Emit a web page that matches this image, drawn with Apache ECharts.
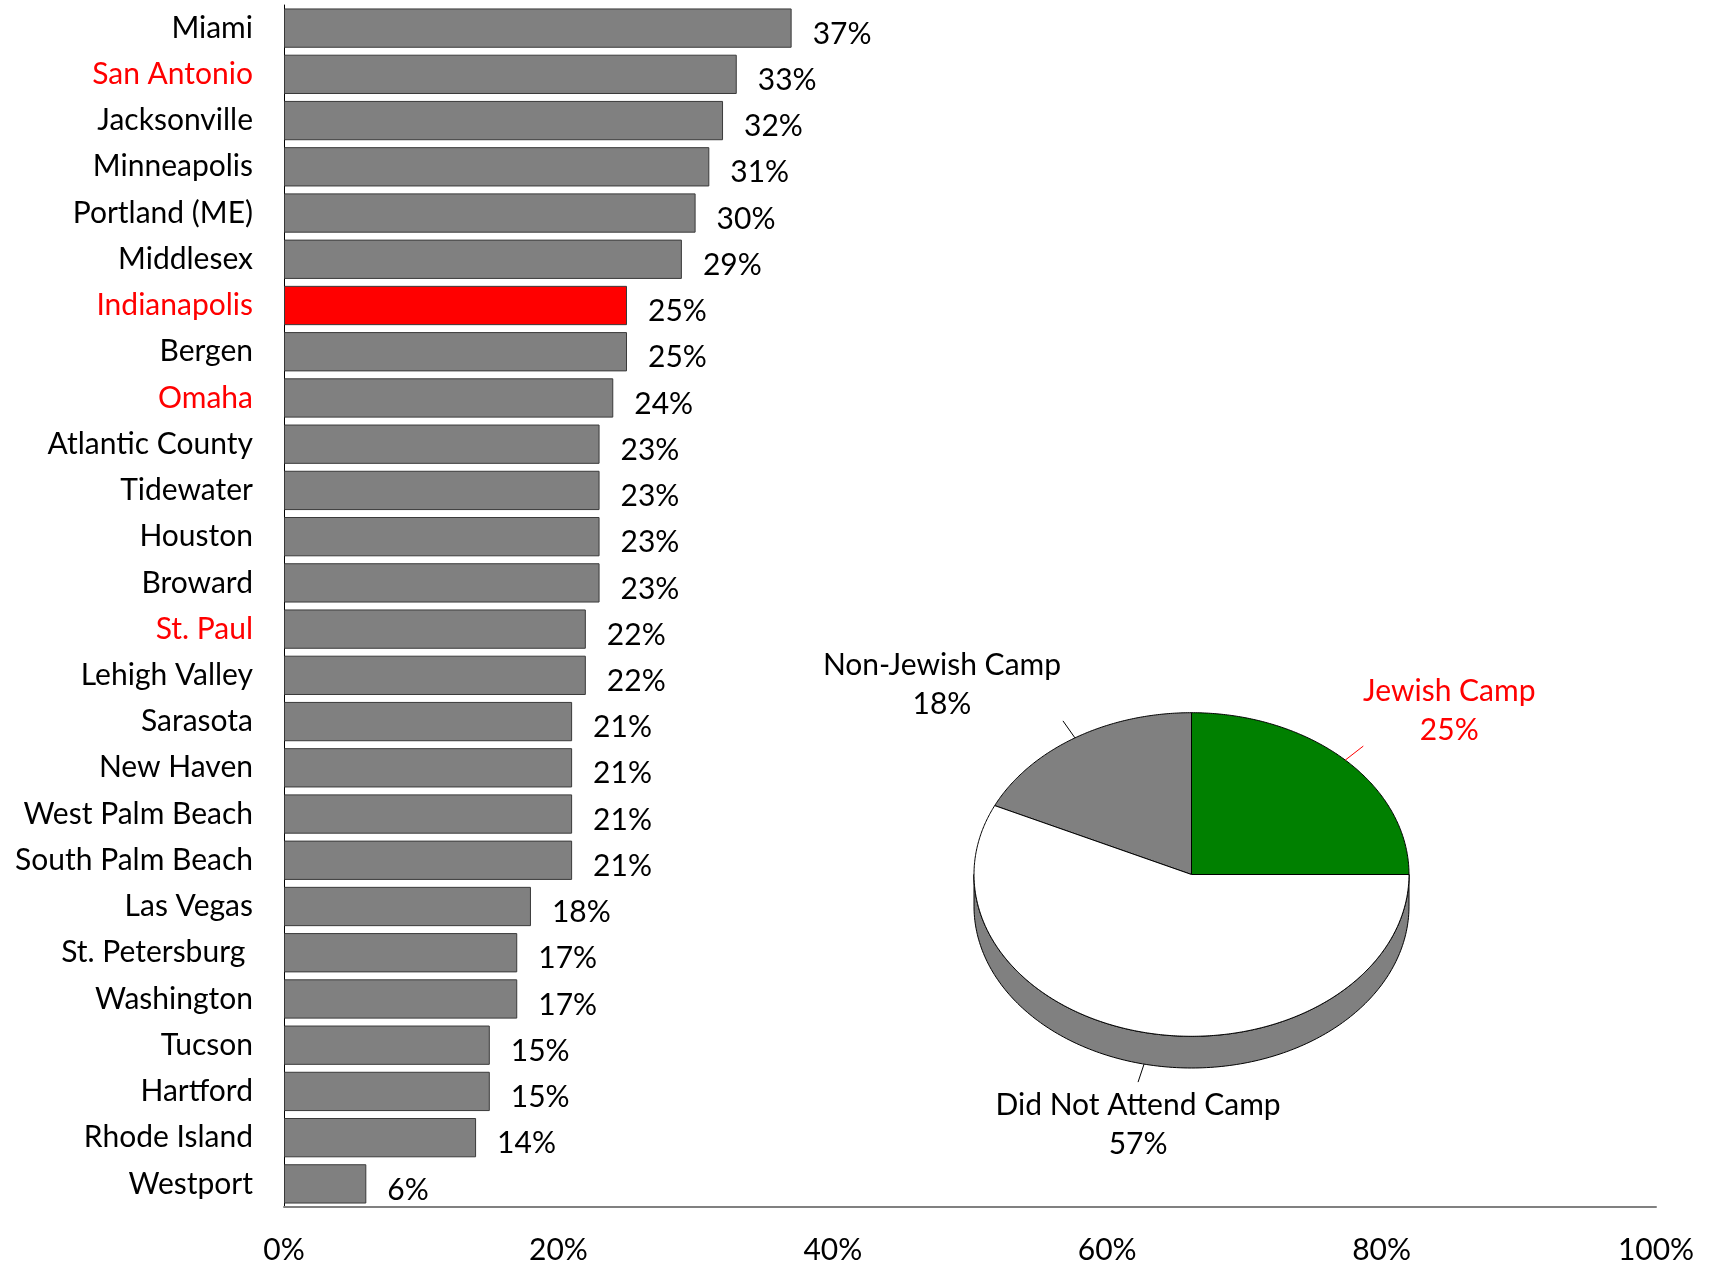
<!DOCTYPE html>
<html>
<head>
<meta charset="utf-8">
<script src="https://cdn.jsdelivr.net/npm/echarts@6/dist/echarts.min.js"></script>
<style>
html,body{margin:0;padding:0;background:#fff;}
#chart{width:1714px;height:1265px;}
</style>
</head>
<body>
<div id="chart"></div>
<script>
// ---- data ----
const cities = ['Miami','San Antonio','Jacksonville','Minneapolis','Portland (ME)','Middlesex','Indianapolis','Bergen','Omaha','Atlantic County','Tidewater','Houston','Broward','St. Paul','Lehigh Valley','Sarasota','New Haven','West Palm Beach','South Palm Beach','Las Vegas','St. Petersburg ','Washington','Tucson','Hartford','Rhode Island','Westport'];
const cityValues = [37,33,32,31,30,29,25,25,24,23,23,23,23,22,22,21,21,21,21,18,17,17,15,15,14,6];
const highlightedCities = ['San Antonio','Indianapolis','Omaha','St. Paul'];
const highlightedBar = 'Indianapolis';
const xTicks = [0,20,40,60,80,100];

const pieNames = ['Jewish Camp','Non-Jewish Camp','Did Not Attend Camp'];
const pieValues = [25,18,57];

// ---- styles / layout ----
const FONT = 'Lato';
const FS = 30;
const pieColors = ['#008000','#808080','#ffffff'];
const pieLabelColors = ['#ff0000','#000000','#000000'];
const pieGeom = {cx:1191.5, cy:874.5, rx:217.5, ry:161.8, depth:31.7};
const leaderVec = [[18,-14],[-12,-17],[-6,18]];
const labelOffset = [[86,-35],[-121,-36],[0,43]];

const chart = echarts.init(document.getElementById('chart'), null, {renderer:'canvas'});

function ellPt(deg, dy){
  const t = deg*Math.PI/180;
  return [pieGeom.cx + pieGeom.rx*Math.cos(t), pieGeom.cy - pieGeom.ry*Math.sin(t) + (dy||0)];
}

const total = pieValues.reduce((a,b)=>a+b,0);

function renderPie(params, api){
  const i = params.dataIndex;
  let before = 0;
  for (let k=0;k<i;k++) before += pieValues[k];
  const a0 = before/total*360;
  const a1 = (before+pieValues[i])/total*360;
  const children = [];
  // side (front part: angles 180..360)
  const s0 = Math.max(a0,180), s1 = Math.min(a1,360);
  if (s1 > s0){
    const pts = [];
    for (let d=s0; d<=s1+1e-6; d+=1) pts.push(ellPt(Math.min(d,s1)));
    for (let d=s1; d>=s0-1e-6; d-=1) pts.push(ellPt(Math.max(d,s0), pieGeom.depth));
    children.push({type:'polygon', shape:{points:pts}, style:{fill:'#808080', stroke:'#000', lineWidth:1}});
  }
  // top face
  const pts = [[pieGeom.cx, pieGeom.cy]];
  for (let d=a0; d<=a1+1e-6; d+=0.5) pts.push(ellPt(Math.min(d,a1)));
  pts.push(ellPt(a1));
  children.push({type:'polygon', shape:{points:pts}, style:{fill:pieColors[i], stroke:'#000', lineWidth:1}});
  // leader line + label
  const mid = (a0+a1)/2;
  const onFront = Math.sin(mid*Math.PI/180) < 0;
  const p = ellPt(mid, onFront ? pieGeom.depth : 0);
  const e = [p[0]+leaderVec[i][0], p[1]+leaderVec[i][1]];
  children.push({type:'line', shape:{x1:p[0],y1:p[1],x2:e[0],y2:e[1]}, style:{stroke:pieLabelColors[i], lineWidth:1}});
  children.push({type:'text', x:e[0]+labelOffset[i][0], y:e[1]+labelOffset[i][1],
    style:{text:pieNames[i]+'\n'+Math.round(pieValues[i]/total*100)+'%', fill:pieLabelColors[i],
      font:FS+'px '+FONT, align:'center', verticalAlign:'middle', lineHeight:39}});
  return {type:'group', children};
}

const option = {
  backgroundColor:'#fff',
  animation:false,
  grid:{left:284, right:58, top:5, bottom:57, containLabel:false},
  xAxis:{
    type:'value', min:0, max:100, interval:20,
    axisLine:{show:true, lineStyle:{color:'#808080', width:2}},
    axisTick:{show:false},
    splitLine:{show:false},
    axisLabel:{formatter:'{value}%', color:'#000', fontFamily:FONT, fontSize:FS, margin:28}
  },
  yAxis:{
    type:'category', inverse:true, data:cities,
    axisLine:{show:true, lineStyle:{color:'#000', width:1}},
    axisTick:{show:false},
    axisLabel:{fontFamily:FONT, fontSize:FS, margin:31, padding:[7,0,0,0],
      color:(v)=> highlightedCities.includes(v) ? '#ff0000' : '#000'}
  },
  series:[
    {
      type:'bar',
      data: cityValues.map((v,k)=>({value:v, itemStyle:{color: cities[k]===highlightedBar ? '#ff0000' : '#808080'}})),
      barCategoryGap:'15%',
      itemStyle:{borderColor:'#3a3a3a', borderWidth:1},
      label:{show:true, position:'right', distance:21, offset:[0,6], formatter:'{c}%', color:'#000', fontFamily:FONT, fontSize:FS},
      z:2
    },
    {
      type:'custom',
      coordinateSystem:'none',
      data: pieValues,
      renderItem: renderPie,
      z:3
    }
  ]
};
chart.setOption(option);
</script>
</body>
</html>
